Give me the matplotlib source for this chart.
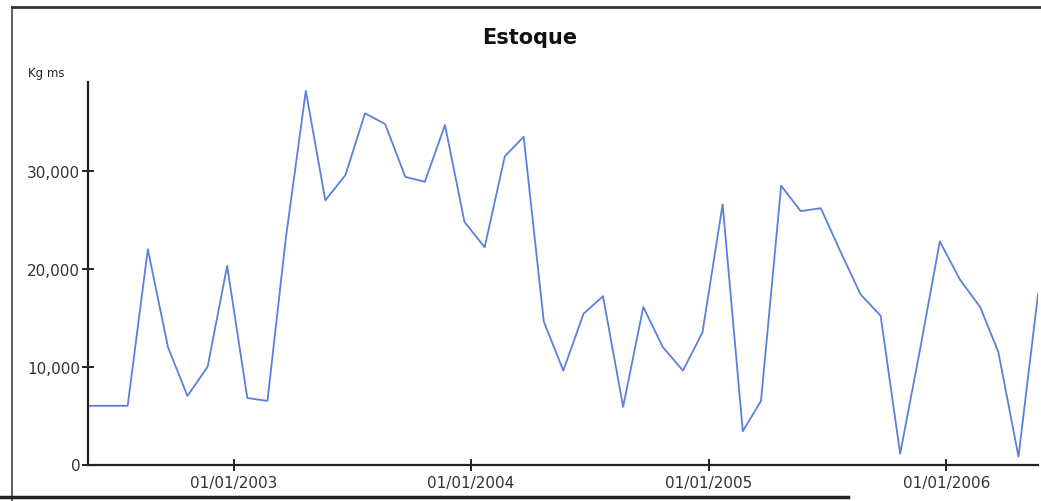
import matplotlib
matplotlib.use('Agg')
import matplotlib.pyplot as plt
import matplotlib.dates as mdates
from matplotlib.lines import Line2D
from matplotlib.ticker import FuncFormatter
import pandas as pd

# ---------------------------------------------------------------
# Datos: estoque mensal (Kg ms)
# ---------------------------------------------------------------
datas = pd.date_range('2002-05-01', periods=49, freq='MS') + pd.Timedelta(days=21)
estoque = [6000, 6000, 6000, 22000, 12000, 7000, 10000, 20300, 6800, 6500,
           23000, 38200, 27000, 29600, 35900, 34800, 29400, 28900, 34700, 24800,
           22200, 31500, 33500, 14600, 9600, 15400, 17200, 5900, 16100, 12000,
           9600, 13500, 26600, 3400, 6500, 28500, 25900, 26200, 21800, 17400,
           15200, 1100, 11900, 22800, 18900, 16100, 11500, 800, 17400]
ticks_x = pd.to_datetime(['2003-01-01', '2004-01-01', '2005-01-01', '2006-01-01'])
ticks_y = [0, 10000, 20000, 30000]

W, H = 1041, 502
fig = plt.figure(figsize=(W / 100, H / 100), dpi=100)
ax = fig.add_axes([88 / W, 1 - 465.5 / H, (1038 - 88) / W, (465.5 - 83) / H])

ax.plot(datas, estoque, color='#5b80dc', lw=1.3)

ax.set_xlim(datas[0], datas[-1])
ax.set_ylim(0, 39100)
ax.set_xticks(ticks_x)
ax.xaxis.set_major_formatter(mdates.DateFormatter('%d/%m/%Y'))
ax.set_yticks(ticks_y)
ax.yaxis.set_major_formatter(FuncFormatter(lambda v, p: f'{int(v):,}'))

for s in ['top', 'right']:
    ax.spines[s].set_visible(False)
for s in ['left', 'bottom']:
    ax.spines[s].set_linewidth(1.6)
    ax.spines[s].set_color('#222222')
ax.tick_params(direction='inout', length=9, width=1.4, colors='#222222',
               labelsize=11, labelcolor='#333333')
ax.tick_params(axis='y', pad=1)
ax.tick_params(axis='x', pad=3)

fig.text(530 / W, 1 - 38 / H, 'Estoque', ha='center', va='center',
         fontsize=15, fontweight='bold', color='#111111')
fig.text(28 / W, 1 - 73 / H, 'Kg ms', ha='left', va='center',
         fontsize=8.5, color='#222222')

# moldura do gráfico
fig.add_artist(Line2D([12 / W, 12 / W], [1 - 8 / H, 0], transform=fig.transFigure,
                      color='#444444', lw=1.2))
fig.add_artist(Line2D([12 / W, 1], [1 - 8 / H, 1 - 8 / H], transform=fig.transFigure,
                      color='#333333', lw=2.0))
fig.add_artist(Line2D([0, 848 / W], [1 - 498 / H, 1 - 498 / H], transform=fig.transFigure,
                      color='#222222', lw=2.5))

plt.savefig('out.png', dpi=100)
